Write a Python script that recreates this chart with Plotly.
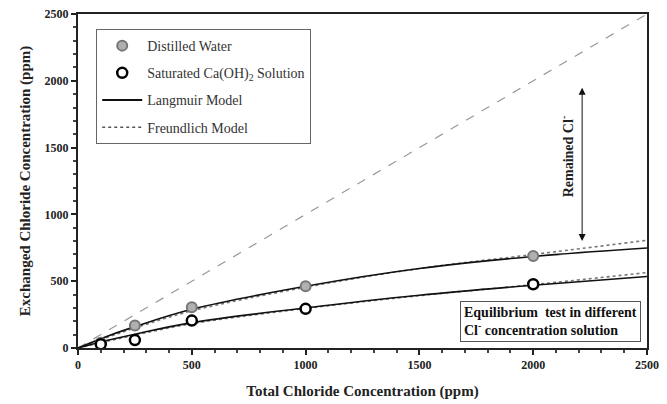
import plotly.graph_objects as go

# Measured data
conc_pts = [100, 250, 500, 1000, 2000]
dw_vals = [40, 168, 305, 462, 689]
ca_vals = [29, 59, 205, 293, 477]

# Model curves
model_x = [0, 100, 250, 500, 1000, 1500, 2000, 2500]
dw_lang = [0, 70, 160, 290, 462, 595, 685, 748]
dw_freu = [0, 62, 150, 278, 455, 595, 700, 806]
ca_lang = [0, 45, 103, 190, 300, 395, 470, 535]
ca_freu = [0, 40, 96, 182, 296, 392, 474, 565]

diag_x = [0, 2500]
diag_y = [0, 2500]

serif = "Liberation Serif"

fig = go.Figure()

fig.add_trace(go.Scatter(x=diag_x, y=diag_y, mode="lines",
                         line=dict(color="#999999", width=1.2, dash="dash"),
                         showlegend=False, hoverinfo="skip"))

for ys in (dw_freu, ca_freu):
    fig.add_trace(go.Scatter(x=model_x, y=ys, mode="lines", line_shape="spline",
                             line=dict(color="#777777", width=1.6, dash="dot"),
                             showlegend=False))
for ys in (dw_lang, ca_lang):
    fig.add_trace(go.Scatter(x=model_x, y=ys, mode="lines", line_shape="spline",
                             line=dict(color="#111111", width=1.6),
                             showlegend=False))

fig.add_trace(go.Scatter(x=conc_pts, y=dw_vals, mode="markers", name="Distilled Water",
                         legendgroup="a",
                         marker=dict(size=10, color="#b0b0b0", line=dict(color="#777777", width=2))))
fig.add_trace(go.Scatter(x=conc_pts, y=ca_vals, mode="markers",
                         name="Saturated Ca(OH)<sub>2</sub> Solution", legendgroup="b",
                         marker=dict(size=10, color="white", line=dict(color="#000000", width=2.5))))
# legend-only entries for models
fig.add_trace(go.Scatter(x=[None], y=[None], mode="lines", name="Langmuir Model", legendgroup="c",
                         line=dict(color="#111111", width=2)))
fig.add_trace(go.Scatter(x=[None], y=[None], mode="lines", name="Freundlich Model", legendgroup="d",
                         line=dict(color="#555555", width=1.5, dash="dot")))

# Remained Cl- arrow
fig.add_annotation(x=2215, y=800, ax=2215, ay=1960, xref="x", yref="y", axref="x", ayref="y",
                   text="", showarrow=True, arrowhead=2, arrowside="end+start",
                   arrowwidth=1, arrowcolor="#111111", arrowsize=1.4)
fig.add_annotation(x=2150, y=1430, xref="x", yref="y", text="<b>Remained Cl<sup>-</sup></b>",
                   textangle=-90, showarrow=False, font=dict(family=serif, size=14, color="#222"))

# Box annotation
fig.add_annotation(x=2075, y=198, xref="x", yref="y",
                   text="<b>Equilibrium  test in different<br>Cl<sup>-</sup> concentration solution</b>",
                   showarrow=False, align="left", bordercolor="#555555", borderwidth=1,
                   borderpad=3, bgcolor="white", font=dict(family=serif, size=14, color="#111"))

fig.update_layout(
    width=667, height=404,
    margin=dict(l=78, r=20, t=7, b=55),
    paper_bgcolor="white", plot_bgcolor="white",
    font=dict(family=serif, color="#222"),
    legend=dict(x=0.032, y=0.955, xanchor="left", yanchor="top",
                bordercolor="#666666", borderwidth=1, bgcolor="white",
                font=dict(family=serif, size=14, color="#333"),
                tracegroupgap=6, itemwidth=40),
    xaxis=dict(range=[0, 2500], showgrid=False, zeroline=False,
               showline=True, linecolor="#222", linewidth=2, mirror=True,
               ticks="outside", tickwidth=1.5, ticklen=5, tickcolor="#222",
               dtick=500, tickprefix="<b>", ticksuffix="</b>",
               tickfont=dict(family=serif, size=12, color="#222"),
               minor=dict(dtick=100, ticks="outside", ticklen=3, tickcolor="#444"),
               title=dict(text="<b>Total Chloride Concentration (ppm)</b>",
                          font=dict(family=serif, size=15, color="#222"), standoff=14)),
    yaxis=dict(range=[0, 2500], showgrid=False, zeroline=False,
               showline=True, linecolor="#222", linewidth=2, mirror=True,
               ticks="outside", tickwidth=1.5, ticklen=5, tickcolor="#222",
               dtick=500, tickprefix="<b>", ticksuffix="</b>",
               tickfont=dict(family=serif, size=12, color="#222"),
               minor=dict(dtick=100, ticks="outside", ticklen=3, tickcolor="#444"),
               title=dict(text="<b>Exchanged Chloride Concentration (ppm)</b>",
                          font=dict(family=serif, size=15, color="#222"), standoff=10)),
)

fig.write_html("out.html")
